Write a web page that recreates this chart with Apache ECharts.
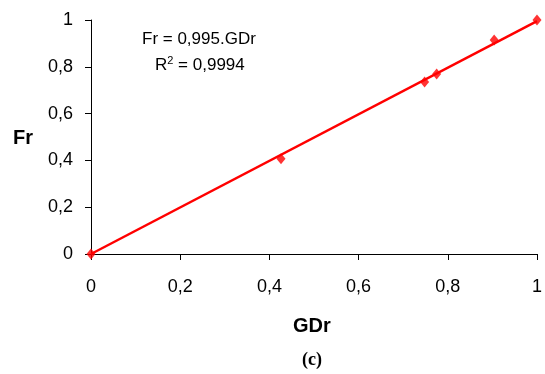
<!DOCTYPE html>
<html><head><meta charset="utf-8">
<script src="https://cdn.jsdelivr.net/npm/echarts@6/dist/echarts.min.js"></script>
<style>html,body{margin:0;padding:0;background:#fff}#c{width:545px;height:374px}</style>
</head><body><div id="c"></div>
<script>
const gdr = [0, 0.426, 0.748, 0.775, 0.904, 1];
const fr = [0, 0.407, 0.735, 0.769, 0.915, 1];
const slope = 0.995;
const trendX = [0, 1];
const ticks = [0, 0.2, 0.4, 0.6, 0.8, 1];
const fmt = v => String(+v.toFixed(1)).replace('.', ',');
const chart = echarts.init(document.getElementById('c'));
const lbl = {formatter: fmt, color: '#000', fontFamily: 'Liberation Sans', fontSize: 18};
const axisCommon = {
  min: 0, max: 1, interval: 0.2,
  axisLine: {show: true, lineStyle: {color: '#000', width: 1}},
  axisTick: {show: true, inside: false, length: 6, lineStyle: {color: '#000'}},
  splitLine: {show: false}
};
chart.setOption({
  animation: false,
  grid: {left: 91, right: 4, top: 20, bottom: 120, containLabel: false},
  xAxis: Object.assign({type: 'value'}, axisCommon, {axisLabel: Object.assign({}, lbl, {margin: 24})}),
  yAxis: Object.assign({type: 'value'}, axisCommon, {axisLabel: Object.assign({}, lbl, {margin: 18})}),
  graphic: [
    {type: 'text', left: 13, top: 128, style: {text: 'Fr', font: 'bold 20px "Liberation Sans"', fill: '#000'}},
    {type: 'text', left: 293, top: 316, style: {text: 'GDr', font: 'bold 20px "Liberation Sans"', fill: '#000'}},
    {type: 'text', left: 142, top: 31, style: {text: 'Fr = 0,995.GDr', font: '17px "Liberation Sans"', fill: '#000'}},
    {type: 'text', left: 155, top: 55, style: {
      text: '{a|R}{s|2}{a| = 0,9994}',
      rich: {a: {fontFamily: 'Liberation Sans', fontSize: 17, color: '#000', verticalAlign: 'bottom'},
             s: {fontFamily: 'Liberation Sans', fontSize: 11, color: '#000', verticalAlign: 'top', padding: [0, 0, 8, 0]}}
    }},
    {type: 'text', left: 302, top: 351, style: {text: '(c)', font: 'bold 18px "Liberation Serif"', fill: '#000'}}
  ],
  series: [
    {type: 'line', data: trendX.map(x => [x, slope * x]), showSymbol: false, symbol: 'none',
      lineStyle: {color: '#ff0000', width: 2.5}, z: 2},
    {type: 'scatter', data: gdr.map((x, i) => [x, fr[i]]), symbol: 'diamond', symbolSize: [9, 11],
      itemStyle: {color: '#ff0000'}, z: 3}
  ]
});
</script></body></html>
